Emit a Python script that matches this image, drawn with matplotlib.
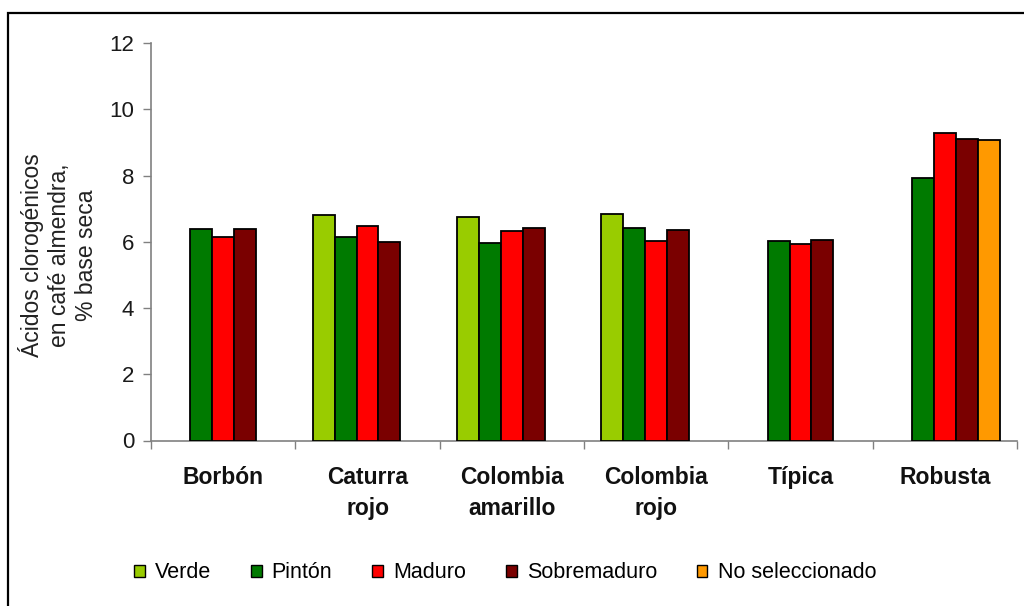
import numpy as np
import matplotlib
matplotlib.use("Agg")
import matplotlib.pyplot as plt
from matplotlib.patches import Rectangle, Patch

plt.rcParams['font.family'] = ['Liberation Sans', 'DejaVu Sans']

varieties = ["Borbón", "Caturra\nrojo", "Colombia\namarillo", "Colombia\nrojo", "Típica", "Robusta"]
stages = ["Verde", "Pintón", "Maduro", "Sobremaduro", "No seleccionado"]
colors = ["#99CC00", "#007A00", "#FF0000", "#7A0000", "#FF9900"]

# chlorogenic acid content (% dry basis); None = not measured
verde = [None, 6.81, 6.76, 6.84, None, None]
pinton = [6.39, 6.14, 5.96, 6.41, 6.01, 7.92]
maduro = [6.14, 6.49, 6.31, 6.01, 5.94, 9.28]
sobremaduro = [6.39, 5.99, 6.41, 6.36, 6.06, 9.11]
no_seleccionado = [None, None, None, None, None, 9.06]
series = [verde, pinton, maduro, sobremaduro, no_seleccionado]

fig = plt.figure(figsize=(10.24, 6.06), dpi=100)
W, H = 1024, 606
ax = fig.add_axes([151 / W, 1 - 440.5 / H, (1017 - 151) / W, (440.5 - 43) / H])

bar_w = 0.152
x = np.arange(len(varieties))
for k, (vals, col) in enumerate(zip(series, colors)):
    xs = [xi + (k - 2) * bar_w for xi, v in zip(x, vals) if v is not None]
    hs = [v for v in vals if v is not None]
    ax.bar(xs, hs, width=bar_w, color=col, edgecolor="black", linewidth=1.3, zorder=3)

ax.set_xlim(-0.5, len(varieties) - 0.5)
ax.set_ylim(0, 12)
ax.set_yticks(np.arange(0, 13, 2))
ax.tick_params(axis="y", labelsize=16, colors="#808080", labelcolor="#1a1a1a",
               length=6, width=1, pad=6)
ax.set_xticks(np.arange(-0.5, len(varieties)))
ax.set_xticklabels([])
ax.tick_params(axis="x", colors="#808080", length=6, width=1)
for s in ["top", "right"]:
    ax.spines[s].set_visible(False)
for s in ["left", "bottom"]:
    ax.spines[s].set_color("#808080")
    ax.spines[s].set_linewidth(1.2)

# category labels
for xi, name in zip(x, varieties):
    ax.text(xi, -0.78, name, ha="center", va="top", fontsize=16.5,
            fontweight="bold", linespacing=1.4, color="#111111",
            transform=ax.transData)

fig.text(58 / W, 1 - 255 / H,
         "Ácidos clorogénicos\nen café almendra,\n% base seca",
         rotation=90, ha="center", va="center", multialignment="center",
         fontsize=16.5, color="#222222", linespacing=1.2)

handles = [Patch(facecolor=c, edgecolor="black", linewidth=1.0, label=s)
           for s, c in zip(stages, colors)]
fig.legend(handles=handles, loc="center", bbox_to_anchor=(505 / W, 1 - 573 / H),
           ncol=5, frameon=False, fontsize=15.5, handlelength=0.5, handleheight=0.5,
           handletextpad=0.47, columnspacing=1.85, borderpad=0)

# outer frame
fig.patches.append(Rectangle((8 / W, -0.05), 1.1, (606 - 13.5) / H + 0.05,
                             transform=fig.transFigure, fill=False,
                             edgecolor="black", linewidth=1.6))

fig.savefig("out.png", dpi=100, facecolor="white")
